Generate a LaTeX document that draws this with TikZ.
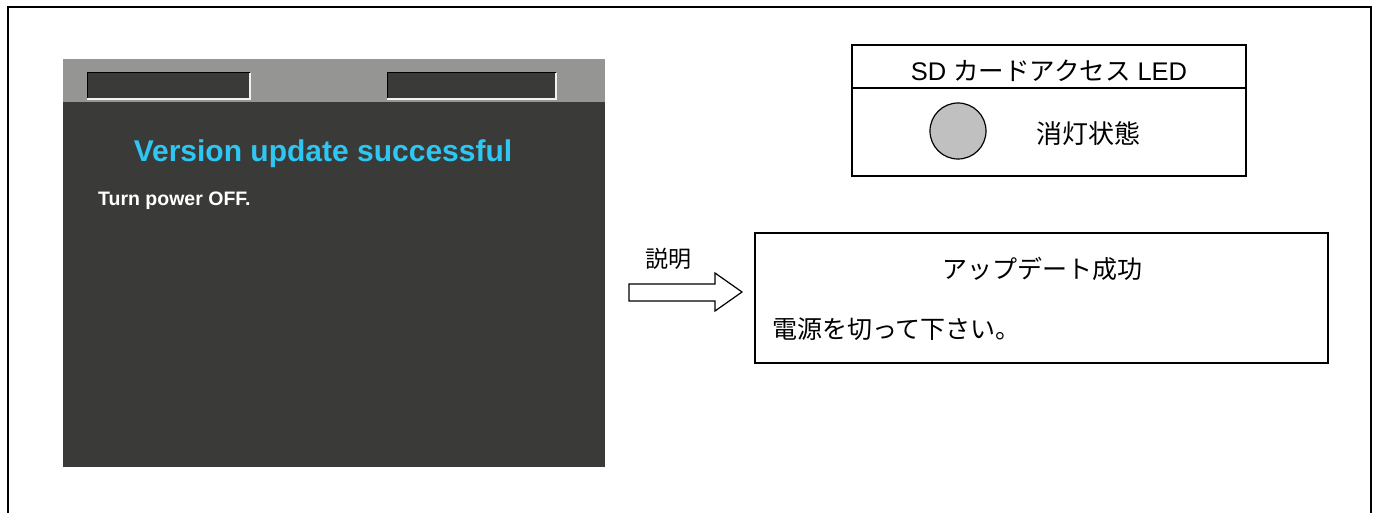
\documentclass[tikz,border=0pt]{standalone}
\usepackage{fontspec}
\setmainfont{Liberation Sans}
\newfontfamily\jp{Noto Sans CJK JP}
\newfontfamily\scr{Liberation Sans}
\definecolor{bar}{HTML}{959693}
\definecolor{scrbg}{HTML}{3A3B39}
\definecolor{cyantext}{HTML}{2EC6F2}
\definecolor{ledgray}{HTML}{C0C0C0}
\begin{document}
\begin{tikzpicture}[x=1pt,y=-1pt,
  frame/.style={draw=black,line width=1.6pt},
  boxline/.style={draw=black,line width=1.2pt},
  jptext/.style={font=\jp\fontsize{25}{28}\selectfont,inner sep=0pt},
  slot/.style={fill=scrbg}]
\useasboundingbox (0,0) rectangle (1377,513);
% outer frame (open at bottom)
\draw[frame] (8,513) -- (8,7) -- (1371,7) -- (1371,513);
% screen
\fill[bar] (63,59) rectangle (605,102);
\fill[scrbg] (63,102) rectangle (605,467);
\foreach \a/\b in {87/250,387/556}{
  \fill[scrbg] (\a,73) rectangle (\b,99);
  \draw[black,line width=1pt] (\a,99) -- (\a,73) -- (\b,73);
  \draw[white!90!gray,line width=1.2pt] (\a,99) -- (\b,99) -- (\b,73);
}
\node[text=cyantext,font=\scr\bfseries\fontsize{30}{34}\selectfont,inner sep=0pt,anchor=base] (title) at (323,162) {Version update successful};
\node[text=white,font=\scr\bfseries\fontsize{19.5}{22}\selectfont,inner sep=0pt,anchor=base west] (turn) at (98,206) {Turn power OFF.};
% LED box
\draw[boxline] (852,45) rectangle (1246,176);
\draw[boxline] (852,88) -- (1246,88);
\node[jptext,font=\jp\fontsize{25.5}{28}\selectfont,anchor=base] (ledhead) at (1049,81) {{\scr SD}\hspace{7pt}カードアクセス\hspace{7pt}{\scr LED}};
\node[circle,draw=black,line width=1.2pt,fill=ledgray,minimum size=56pt,inner sep=0pt] (led) at (958,131) {};
\node[jptext,font=\jp\fontsize{26}{28}\selectfont] (ledstate) at (1088,134) {消灯状態};
% arrow
\draw[line width=1.2pt,fill=white] (629,284) -- (715,284) -- (715,273) -- (742,292) -- (715,311) -- (715,301) -- (629,301) -- cycle;
\node[jptext,font=\jp\fontsize{23}{26}\selectfont] (expl) at (668,259) {説明};
% description box
\draw[boxline] (755,233) rectangle (1328,363);
\node[jptext] (upd) at (1042,269) {アップデート成功};
\node[jptext,anchor=west] (power) at (772,329) {電源を切って下さい。};
\end{tikzpicture}
\end{document}
